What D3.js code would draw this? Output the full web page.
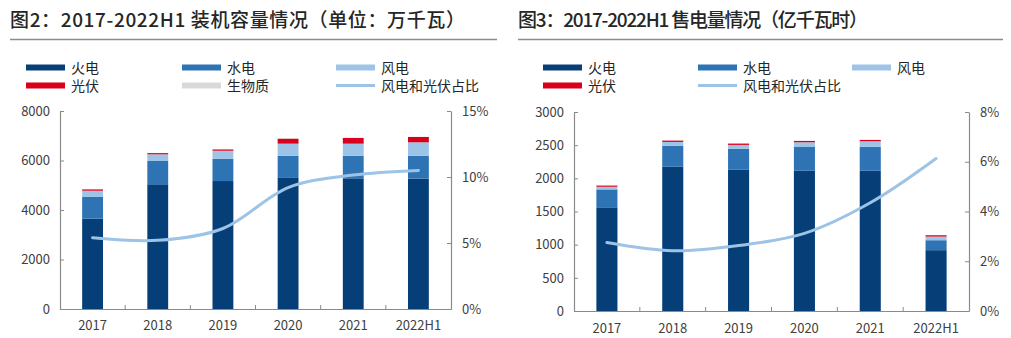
<!DOCTYPE html>
<html><head><meta charset="utf-8">
<script src="https://cdn.jsdelivr.net/npm/d3@7"></script>
<style>
html,body{margin:0;padding:0;background:#fff;}
svg{display:block;}
text{font-family:"Noto Sans CJK SC","Liberation Sans",sans-serif;}
</style></head>
<body>
<svg id="c" width="1011" height="338"></svg>
<script>
const categories = ["2017","2018","2019","2020","2021","2022H1"];

// 图2 装机容量（万千瓦）
const capFire  = [3650, 5040, 5170, 5320, 5280, 5270];
const capHydro = [890, 940, 900, 875, 915, 925];
const capWind  = [240, 270, 325, 485, 485, 540];
const capSolar = [55, 50, 55, 200, 230, 215];
const capBio   = [6, 8, 8, 10, 10, 10];
const capShare = [5.4, 5.2, 6.1, 9.2, 10.15, 10.5];   // %
const capTicksL = [0, 2000, 4000, 6000, 8000];
const capTicksR = [0, 5, 10, 15];

// 图3 售电量（亿千瓦时）
const salFire  = [1563, 2174, 2134, 2114, 2114, 917];
const salHydro = [270, 315, 310, 365, 360, 150];
const salWind  = [40, 60, 60, 65, 85, 55];
const salSolar = [18, 20, 20, 20, 20, 20];
const salShare = [2.75, 2.42, 2.63, 3.12, 4.35, 6.13]; // %
const salTicksL = [0, 500, 1000, 1500, 2000, 2500, 3000];
const salTicksR = [0, 2, 4, 6, 8];

const COL = {fire:"#063f78", hydro:"#2e74b5", wind:"#9dc3e6", solar:"#d9001b", bio:"#d9d9d9", line:"#9dc3e6"};
const svg = d3.select("#c");
const axisCol = "#8a8a8a", txtCol = "#404040";

function drawChart(o){
  const g = svg.append("g");
  // title
  g.append("text").attr("x", o.tx).attr("y", 27).attr("font-size", 19).attr("font-weight", 500)
    .attr("fill", "#262626").attr("textLength", o.tw).attr("lengthAdjust", "spacing").text(o.title);
  g.append("line").attr("x1", o.tx).attr("x2", o.tx2).attr("y1", 39.5).attr("y2", 39.5)
    .attr("stroke", "#8c8c8c").attr("stroke-width", 1.5);

  // legend
  o.legend.forEach(d => {
    if (d.type === "bar") {
      g.append("rect").attr("x", d.x).attr("y", d.y - 3).attr("width", 39).attr("height", 6).attr("fill", d.color);
    } else {
      g.append("rect").attr("x", d.x).attr("y", d.y - 1.5).attr("width", 39).attr("height", 3).attr("fill", d.color);
    }
    g.append("text").attr("x", d.x + 45).attr("y", d.y + 5).attr("font-size", 14).attr("fill", "#262626").text(d.name);
  });

  const x = d3.scaleBand().domain(categories).range([o.x0, o.x1]).paddingInner(0.68).paddingOuter(0.34);
  const xb = d3.scaleBand().domain(categories).range([o.x0, o.x1]);
  const yL = d3.scaleLinear().domain([0, o.maxL]).range([o.y0, o.y1]);
  const yR = d3.scaleLinear().domain([0, o.maxR]).range([o.y0, o.y1]);

  // stacked bars
  const rows = categories.map((c, i) => {
    const r = {cat: c};
    o.series.forEach(s => r[s.key] = s.values[i]);
    return r;
  });
  const stack = d3.stack().keys(o.series.map(s => s.key))(rows);
  stack.forEach((layer, li) => {
    g.append("g").selectAll("rect").data(layer).join("rect")
      .attr("x", d => x(d.data.cat)).attr("width", x.bandwidth())
      .attr("y", d => yL(d[1])).attr("height", d => yL(d[0]) - yL(d[1]))
      .attr("fill", o.series[li].color);
  });

  // line
  const line = d3.line().x((d, i) => xb(categories[i]) + xb.bandwidth() / 2).y(d => yR(d))
    .curve(d3.curveCatmullRom.alpha(0.5));
  g.append("path").attr("d", line(o.share)).attr("fill", "none")
    .attr("stroke", COL.line).attr("stroke-width", 3).attr("stroke-linecap", "round");

  // left axis
  const aL = g.append("g").attr("transform", `translate(${o.x0},0)`)
    .call(d3.axisLeft(yL).tickValues(o.ticksL).tickSize(-4).tickPadding(10).tickSizeOuter(0)
      .tickFormat(d3.format("d")));
  // right axis
  const aR = g.append("g").attr("transform", `translate(${o.x1},0)`)
    .call(d3.axisRight(yR).tickValues(o.ticksR).tickSize(-4).tickPadding(11).tickSizeOuter(0)
      .tickFormat(d => d + "%"));
  // bottom axis
  const aB = g.append("g").attr("transform", `translate(0,${o.y0})`)
    .call(d3.axisBottom(xb).tickSize(0).tickPadding(o.xPad).tickSizeOuter(0));
  // tick marks between categories (inside)
  const bounds = categories.slice(1).map(c => xb(c));
  aB.selectAll("line.sep").data(bounds).join("line").attr("class", "sep")
    .attr("x1", d => d).attr("x2", d => d).attr("y1", 0).attr("y2", -4).attr("stroke", axisCol);

  [aL, aR, aB].forEach(a => {
    a.select(".domain").attr("stroke", axisCol).attr("stroke-width", 1.2);
    a.selectAll(".tick line").attr("stroke", axisCol);
    a.selectAll("text").attr("fill", txtCol).attr("font-size", 13)
      .attr("font-family", "'Liberation Sans', Arial, sans-serif");
  });
}

drawChart({
  title: "图2：2017-2022H1 装机容量情况（单位：万千瓦）", tx: 10, tx2: 497, tw: 455,
  x0: 60, x1: 451, y0: 309, y1: 111, maxL: 8000, maxR: 15, xPad: 12,
  ticksL: capTicksL, ticksR: capTicksR, share: capShare,
  series: [
    {key: "火电", values: capFire, color: COL.fire},
    {key: "水电", values: capHydro, color: COL.hydro},
    {key: "风电", values: capWind, color: COL.wind},
    {key: "光伏", values: capSolar, color: COL.solar},
    {key: "生物质", values: capBio, color: COL.bio}
  ],
  legend: [
    {name: "火电", color: COL.fire, x: 26, y: 67.5, type: "bar"},
    {name: "水电", color: COL.hydro, x: 182, y: 67.5, type: "bar"},
    {name: "风电", color: COL.wind, x: 336, y: 67.5, type: "bar"},
    {name: "光伏", color: COL.solar, x: 26, y: 85.5, type: "bar"},
    {name: "生物质", color: COL.bio, x: 182, y: 85.5, type: "bar"},
    {name: "风电和光伏占比", color: COL.line, x: 336, y: 85.5, type: "line"}
  ]
});

drawChart({
  title: "图3：2017-2022H1 售电量情况（亿千瓦时）", tx: 518, tx2: 1003, tw: 350,
  x0: 574, x1: 969, y0: 311, y1: 112, maxL: 3000, maxR: 8, xPad: 13,
  ticksL: salTicksL, ticksR: salTicksR, share: salShare,
  series: [
    {key: "火电", values: salFire, color: COL.fire},
    {key: "水电", values: salHydro, color: COL.hydro},
    {key: "风电", values: salWind, color: COL.wind},
    {key: "光伏", values: salSolar, color: COL.solar}
  ],
  legend: [
    {name: "火电", color: COL.fire, x: 543, y: 67.5, type: "bar"},
    {name: "水电", color: COL.hydro, x: 698, y: 67.5, type: "bar"},
    {name: "风电", color: COL.wind, x: 852, y: 67.5, type: "bar"},
    {name: "光伏", color: COL.solar, x: 543, y: 85.5, type: "bar"},
    {name: "风电和光伏占比", color: COL.line, x: 698, y: 85.5, type: "line"}
  ]
});
</script>
</body></html>
